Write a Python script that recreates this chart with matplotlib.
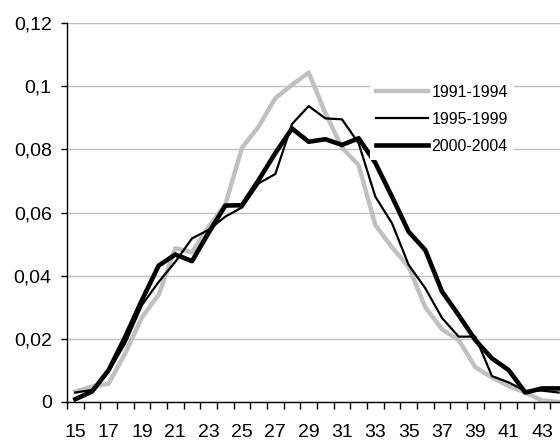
import numpy as np
from matplotlib import pyplot as plt

plt.rcParams['font.family'] = ['Liberation Sans', 'DejaVu Sans']

# ages 15..44
ages = list(range(15, 45))

s1991 = [0.0033, 0.0049, 0.0058, 0.0155, 0.0268, 0.0340, 0.0487, 0.0474, 0.0555, 0.0625,
         0.0805, 0.0872, 0.0962, 0.1004, 0.1043, 0.0915, 0.0805, 0.0750, 0.0560, 0.0490,
         0.0428, 0.0300, 0.0230, 0.0196, 0.0110, 0.0078, 0.0050, 0.0030, 0.0005, 0.0000]
s1995 = [0.0030, 0.0038, 0.0096, 0.0187, 0.0307, 0.0380, 0.0444, 0.0518, 0.0545, 0.0587,
         0.0616, 0.0692, 0.0722, 0.0880, 0.0937, 0.0898, 0.0895, 0.0819, 0.0650, 0.0566,
         0.0434, 0.0360, 0.0266, 0.0207, 0.0207, 0.0082, 0.0062, 0.0035, 0.0036, 0.0030]
s2000 = [0.0009, 0.0033, 0.0101, 0.0207, 0.0323, 0.0432, 0.0467, 0.0446, 0.0536, 0.0622,
         0.0623, 0.0703, 0.0788, 0.0866, 0.0824, 0.0832, 0.0814, 0.0835, 0.0757, 0.0650,
         0.0539, 0.0481, 0.0350, 0.0275, 0.0196, 0.0138, 0.0101, 0.0030, 0.0043, 0.0043]

yticks = [0, 0.02, 0.04, 0.06, 0.08, 0.1, 0.12]
ylabels = ['0', '0,02', '0,04', '0,06', '0,08', '0,1', '0,12']
xlabels = [str(a) for a in range(15, 44, 2)]

fig = plt.figure(figsize=(5.6, 4.42), dpi=100)
ax = fig.add_axes([67/560, 40/442, 500/560, 379/442])

ax.plot(ages, s1991, color='#c0c0c0', lw=3.2, label='1991-1994')
ax.plot(ages, s1995, color='black', lw=1.6, label='1995-1999')
ax.plot(ages, s2000, color='black', lw=3.3, label='2000-2004')

ax.set_xlim(14.5, 44.5)
ax.set_ylim(0, 0.12)
ax.set_yticks(yticks)
ax.set_yticklabels(ylabels)
ax.set_xticks(range(15, 44, 2))
ax.set_xticklabels(xlabels)
ax.set_xticks(np.arange(14.5, 45, 1), minor=True)

ax.tick_params(axis='x', which='major', length=0, pad=16, labelsize=14)
ax.tick_params(axis='x', which='minor', length=5, width=1, direction='out')
ax.tick_params(axis='y', length=4, width=1, direction='out', pad=7, labelsize=14)

ax.grid(axis='y', color='#c0c0c0', lw=1)
ax.set_axisbelow(True)
for side in ['top', 'right']:
    ax.spines[side].set_visible(False)
for side in ['left', 'bottom']:
    ax.spines[side].set_linewidth(1)

leg = fig.legend(loc='center left', bbox_to_anchor=(370/560, 0.73), fontsize=11.5,
                 handlelength=3.2, handletextpad=0.25, labelspacing=0.75,
                 borderpad=0.4, borderaxespad=0, frameon=True, fancybox=False)
leg.get_frame().set_edgecolor('none')
leg.get_frame().set_facecolor('white')
leg.get_frame().set_alpha(1)

fig.savefig('out.png', dpi=100)
